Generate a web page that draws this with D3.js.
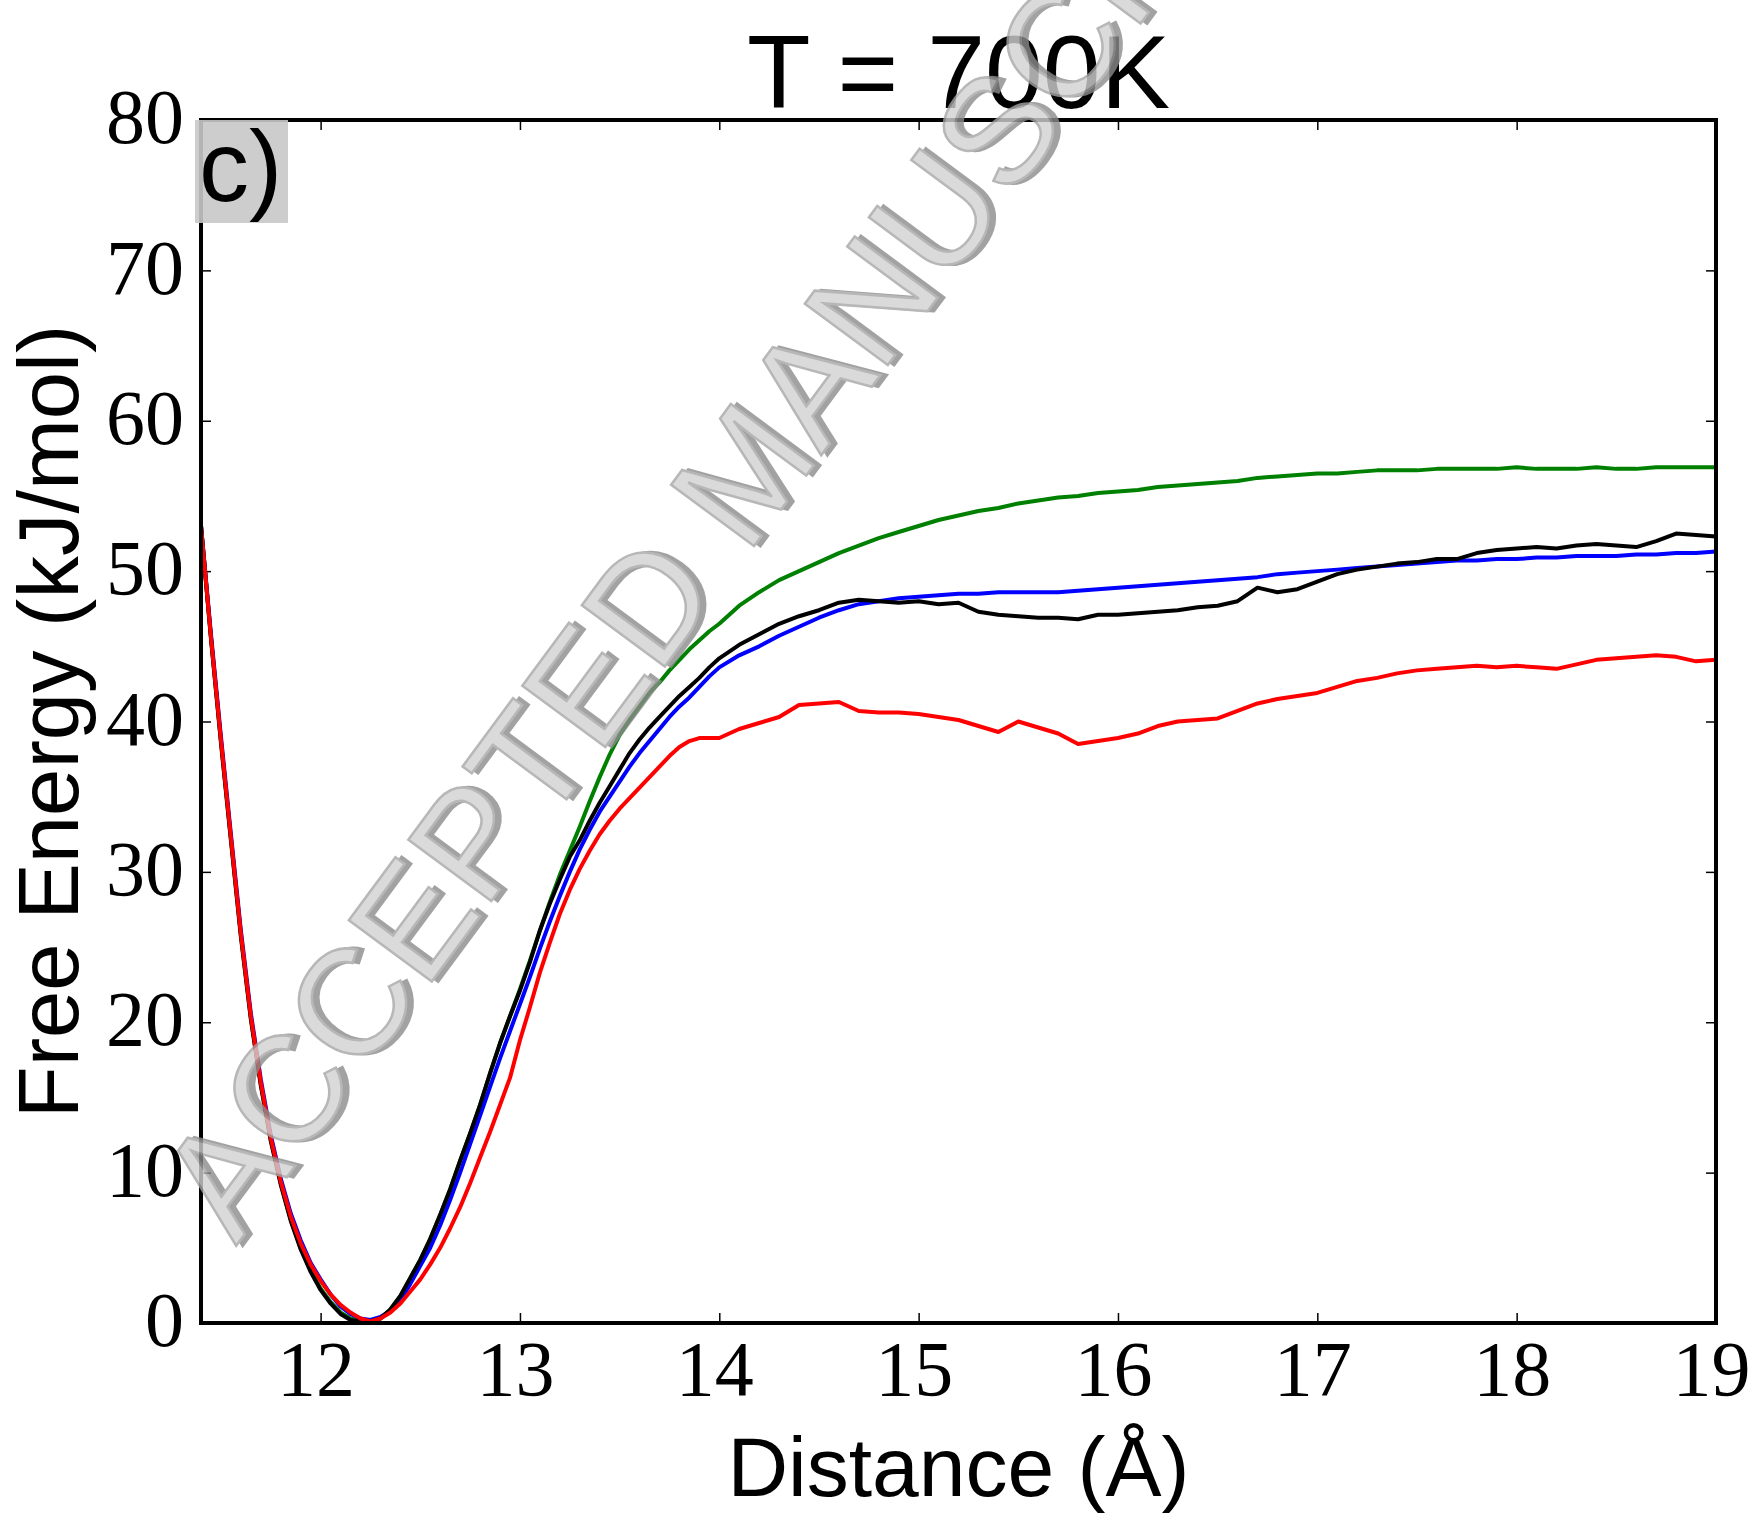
<!doctype html>
<html>
  <head>
    <meta charset="utf-8">
    <script src="https://cdn.jsdelivr.net/npm/d3@7"></script>
    <style>
      body { margin: 0; background: white; }
      svg { display: block; }
      .tick text { font-family: 'Liberation Serif', serif; fill: black; }
      .tick line { stroke: black; stroke-width: 1.5; }
    </style>
  </head>
  <body>
    <svg id="chart"></svg>
  <script>

    // distance grid (Å): 0.05 steps up to 14, then 0.1 steps
    const distance = [11.40,11.45,11.50,11.55,11.60,11.65,11.70,11.75,11.80,11.85,11.90,11.95,
      12.00,12.05,12.10,12.15,12.20,12.25,12.30,12.35,12.40,12.45,12.50,12.55,12.60,12.65,12.70,12.75,
      12.80,12.85,12.90,12.95,13.00,13.05,13.10,13.15,13.20,13.25,13.30,13.35,13.40,13.45,13.50,13.55,
      13.60,13.65,13.70,13.75,13.80,13.85,13.90,13.95,14.00,
      14.1,14.2,14.3,14.4,14.5,14.6,14.7,14.8,14.9,15.0,15.1,15.2,15.3,15.4,15.5,15.6,15.7,15.8,15.9,
      16.0,16.1,16.2,16.3,16.4,16.5,16.6,16.7,16.8,16.9,17.0,17.1,17.2,17.3,17.4,17.5,17.6,17.7,17.8,
      17.9,18.0,18.1,18.2,18.3,18.4,18.5,18.6,18.7,18.8,18.9,19.0]

    const greenFE = [53.0,45.6,38.7,32.2,25.8,20.3,15.9,12.2,9.3,6.9,5.0,3.5,
      2.3,1.4,0.7,0.3,0.1,0.1,0.3,0.9,1.8,3.0,4.2,5.6,7.2,8.9,10.8,12.6,
      14.5,16.6,18.6,20.4,22.2,24.1,26.1,28.0,29.8,31.4,33.0,34.7,36.3,37.8,39.1,40.1,
      41.0,41.9,42.6,43.4,44.1,44.8,45.4,46.0,46.5,
      47.7,48.6,49.4,50.0,50.6,51.2,51.7,52.2,52.6,53.0,53.4,53.7,54.0,54.2,54.5,54.7,54.9,55.0,55.2,
      55.3,55.4,55.6,55.7,55.8,55.9,56.0,56.2,56.3,56.4,56.5,56.5,56.6,56.7,56.7,56.7,56.8,56.8,56.8,
      56.8,56.9,56.8,56.8,56.8,56.9,56.8,56.8,56.9,56.9,56.9,56.9]

    const blueFE = [53.0,45.8,39.0,32.5,26.1,20.6,16.2,12.5,9.6,7.3,5.5,4.0,
      2.9,1.9,1.1,0.6,0.3,0.2,0.4,0.8,1.5,2.6,3.8,5.0,6.5,8.2,10.0,11.9,
      13.8,15.7,17.6,19.4,21.2,23.0,24.9,26.7,28.4,30.0,31.5,32.8,34.0,35.0,36.0,37.0,
      37.9,38.7,39.5,40.3,41.0,41.6,42.3,43.0,43.6,
      44.4,45.0,45.7,46.3,46.9,47.4,47.8,48.0,48.2,48.3,48.4,48.5,48.5,48.6,48.6,48.6,48.6,48.7,48.8,
      48.9,49.0,49.1,49.2,49.3,49.4,49.5,49.6,49.8,49.9,50.0,50.1,50.2,50.3,50.4,50.5,50.6,50.7,50.7,
      50.8,50.8,50.9,50.9,51.0,51.0,51.0,51.1,51.1,51.2,51.2,51.3]

    const blackFE = [53.0,45.5,38.6,32.1,25.7,20.2,15.8,12.1,9.2,6.8,4.9,3.4,
      2.2,1.3,0.6,0.2,0.1,0.1,0.3,0.9,1.8,3.0,4.2,5.6,7.2,8.9,10.8,12.6,
      14.5,16.6,18.6,20.4,22.1,24.0,26.1,27.9,29.5,31.0,32.1,33.4,34.6,35.7,36.8,37.9,
      38.8,39.6,40.3,41.0,41.7,42.3,42.9,43.6,44.2,
      45.1,45.8,46.5,47.0,47.4,47.9,48.1,48.0,47.9,48.0,47.8,47.9,47.3,47.1,47.0,46.9,46.9,46.8,47.1,
      47.1,47.2,47.3,47.4,47.6,47.7,48.0,48.9,48.6,48.8,49.3,49.8,50.1,50.3,50.5,50.6,50.8,50.8,51.2,
      51.4,51.5,51.6,51.5,51.7,51.8,51.7,51.6,52.0,52.5,52.4,52.3]

    const redFE = [53.0,45.6,38.8,32.3,25.9,20.4,16.0,12.3,9.4,7.1,5.3,3.9,
      2.8,1.9,1.2,0.7,0.3,0.1,0.3,0.7,1.3,2.1,2.9,3.9,5.0,6.3,7.7,9.3,
      11.0,12.7,14.5,16.3,18.8,21.0,23.3,25.3,27.2,28.8,30.2,31.4,32.5,33.4,34.2,34.9,
      35.6,36.3,37.0,37.7,38.3,38.7,38.9,38.9,38.9,
      39.5,39.9,40.3,41.1,41.2,41.3,40.7,40.6,40.6,40.5,40.3,40.1,39.7,39.3,40.0,39.6,39.2,38.5,38.7,
      38.9,39.2,39.7,40.0,40.1,40.2,40.7,41.2,41.5,41.7,41.9,42.3,42.7,42.9,43.2,43.4,43.5,43.6,43.7,
      43.6,43.7,43.6,43.5,43.8,44.1,44.2,44.3,44.4,44.3,44.0,44.1]

    const xTicks = [12, 13, 14, 15, 16, 17, 18, 19]
    const yTicks = [0, 10, 20, 30, 40, 50, 60, 70, 80]

    const series = [
      { color: "#008000", values: greenFE },
      { color: "#0000ff", values: blueFE },
      { color: "#000000", values: blackFE },
      { color: "#ff0000", values: redFE }
    ]

    const width = 1753, height = 1516
    const plot = { left: 201, right: 1716, top: 120, bottom: 1323 }

    const svg = d3.select("#chart")
      .attr("width", width)
      .attr("height", height)

    svg.append("rect").attr("width", width).attr("height", height).attr("fill", "white")

    const x = d3.scaleLinear().domain([11.4, 19]).range([plot.left, plot.right])
    const y = d3.scaleLinear().domain([0, 80]).range([plot.bottom, plot.top])

    // ticks point inward on every side, labels only bottom / left
    const bottomAxis = svg.append("g")
      .attr("transform", "translate(0," + plot.bottom + ")")
      .call(d3.axisBottom(x).tickValues(xTicks).tickSize(-10).tickPadding(17).tickFormat(d3.format("d")))
    bottomAxis.selectAll("text").style("font-size", "78px").attr("dx", -5)

    const leftAxis = svg.append("g")
      .attr("transform", "translate(" + plot.left + ",0)")
      .call(d3.axisLeft(y).tickValues(yTicks).tickSize(-10).tickPadding(17).tickFormat(d3.format("d")))
    leftAxis.selectAll("text").style("font-size", "78px").attr("dy", "0.29em")

    svg.append("g")
      .attr("transform", "translate(0," + plot.top + ")")
      .call(d3.axisTop(x).tickValues(xTicks).tickSize(-10).tickFormat(""))

    svg.append("g")
      .attr("transform", "translate(" + plot.right + ",0)")
      .call(d3.axisRight(y).tickValues(yTicks).tickSize(-10).tickFormat(""))

    svg.selectAll(".domain").remove()

    const line = d3.line()
      .x((d, i) => x(distance[i]))
      .y(d => y(d))

    svg.append("g")
      .selectAll("path")
      .data(series)
      .enter().append("path")
        .attr("d", d => line(d.values))
        .attr("fill", "none")
        .attr("stroke", d => d.color)
        .attr("stroke-width", 4)
        .attr("stroke-linejoin", "round")

    // frame
    svg.append("rect")
      .attr("x", plot.left)
      .attr("y", plot.top)
      .attr("width", plot.right - plot.left)
      .attr("height", plot.bottom - plot.top)
      .attr("fill", "none")
      .attr("stroke", "black")
      .attr("stroke-width", 4)

    // panel label
    svg.append("rect")
      .attr("x", 195).attr("y", 120)
      .attr("width", 93).attr("height", 103)
      .attr("fill", "#c8c8c8")
      .attr("opacity", 0.9)
    svg.append("text")
      .attr("x", 199).attr("y", 201)
      .style("font-family", "'Liberation Sans', Arial, sans-serif")
      .style("font-size", "100px")
      .text("c)")

    svg.append("text")
      .attr("x", (plot.left + plot.right) / 2)
      .attr("y", 108)
      .attr("text-anchor", "middle")
      .style("font-family", "'Liberation Sans', Arial, sans-serif")
      .style("font-size", "104px")
      .text("T = 700K")

    svg.append("text")
      .attr("x", (plot.left + plot.right) / 2)
      .attr("y", 1496)
      .attr("text-anchor", "middle")
      .style("font-family", "'Liberation Sans', Arial, sans-serif")
      .style("font-size", "84px")
      .text("Distance (Å)")

    svg.append("text")
      .attr("transform", "translate(78," + (plot.top + plot.bottom) / 2 + ") rotate(-90)")
      .attr("text-anchor", "middle")
      .style("font-family", "'Liberation Sans', Arial, sans-serif")
      .style("font-size", "85px")
      .text("Free Energy (kJ/mol)")

    // watermark on top
    const wm = svg.append("g")
      .attr("transform", "translate(236,1246) rotate(-53.5)")
      .attr("opacity", 0.8)
      .style("font-family", "'Liberation Sans', Arial, sans-serif")
      .style("font-size", "150px")
    wm.append("text")
      .attr("x", 4).attr("y", 5)
      .attr("fill", "#8c8c8c")
      .attr("stroke", "#8c8c8c")
      .attr("stroke-width", 3)
      .text("ACCEPTED MANUSCRIPT")
    wm.append("text")
      .attr("fill", "#d2d2d2")
      .attr("stroke", "#a6a6a6")
      .attr("stroke-width", 2.5)
      .text("ACCEPTED MANUSCRIPT")

  </script>
  </body>
</html>
